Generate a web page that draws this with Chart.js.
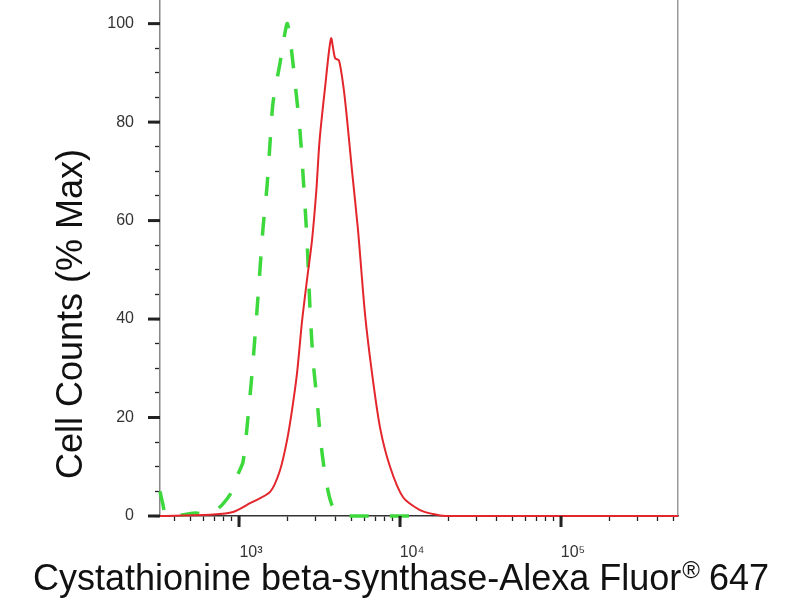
<!DOCTYPE html>
<html>
<head>
<meta charset="utf-8">
<script src="https://cdn.jsdelivr.net/npm/chart.js@4/dist/chart.umd.min.js"></script>
<style>
  body { margin: 0; background: #fff; }
  #wrap { width: 800px; height: 600px; }
</style>
</head>
<body>
<div id="wrap"><canvas id="myChart" width="800" height="600"></canvas></div>
<script>
// fluorescence intensity (log) vs % max
var redX = [323, 690, 918, 1171, 1560, 1798, 1988, 2134, 2293, 2462, 2645, 2840, 3020, 3160, 3423, 3730, 3948, 4180, 4460, 4691, 5038, 5487, 6063, 6700, 7510, 8670, 10450, 13310, 16020, 19040, 533000];
var redY = [0, 0.3, 0.8, 2.6, 4.9, 9.3, 15.4, 21.5, 29, 39.5, 48, 56, 66, 76, 87, 97, 93, 92.5, 87, 80.5, 70, 58, 41, 29, 18, 10, 3.8, 1.2, 0.4, 0, 0];

var greenX = [323, 336, 352, 400, 463, 540, 615, 700, 783, 905, 986, 1059, 1121, 1205, 1295, 1410, 1493, 1560, 1627, 1798, 1988, 2075, 2229, 2394, 2502, 2645, 2761, 2884, 3051, 3324, 3783, 4691, 15000];
var greenY = [5, 2.5, 0, 0, 0.3, 0.6, 0.3, 1, 2.2, 5, 8.5, 11, 18, 29, 42, 58.5, 67, 76, 84, 92, 100, 97, 88, 78, 69, 56, 42, 31.6, 23.5, 11.3, 2.2, 0, 0];

var yLabelEvery = 20;
var xTitle = ['Cystathionine beta-synthase-Alexa Fluor', '\u00AE', ' 647'];
var yTitle = 'Cell Counts (% Max)';
var sup = {'2': '\u00B2', '3': '\u00B3', '4': '\u2074', '5': '\u2075', '6': '\u2076'};

function pts(xs, ys) {
    return xs.map(function(x, i) { return {x: x, y: ys[i]}; });
}
function isDecade(v) {
    var e = Math.log10(v);
    return Math.abs(e - Math.round(e)) < 1e-6;
}
function isNice(v) {
    var p = Math.pow(10, Math.floor(Math.log10(v) + 1e-9));
    var s = v / p;
    return Math.abs(s - Math.round(s)) < 1e-6;
}

var font = '"Liberation Sans", Arial, sans-serif';

// axis titles, drawn as plain canvas text
var axisTitles = {
    id: 'axisTitles',
    afterDraw: function(chart) {
        var c = chart.ctx;
        c.save();
        c.fillStyle = '#111';
        c.font = '36px ' + font;
        c.textAlign = 'center';
        c.textBaseline = 'middle';
        c.translate(72, 314);
        c.rotate(-Math.PI / 2);
        c.fillText(yTitle, 0, 0);
        c.restore();

        c.save();
        c.fillStyle = '#111';
        c.textBaseline = 'alphabetic';
        c.font = '36px ' + font;
        var w0 = c.measureText(xTitle[0]).width;
        var w2 = c.measureText(xTitle[2]).width;
        c.font = '24px ' + font;
        var w1 = c.measureText(xTitle[1]).width;
        var x = 401 - (w0 + w1 + w2) / 2;
        c.font = '36px ' + font;
        c.fillText(xTitle[0], x, 590);
        c.font = '24px ' + font;
        c.fillText(xTitle[1], x + w0 + 1, 578);
        c.font = '36px ' + font;
        c.fillText(xTitle[2], x + w0 + w1, 590);
        c.restore();
    }
};

// longer, heavier marks for the labelled ticks
var majorTicks = {
    id: 'majorTicks',
    afterDraw: function(chart) {
        var c = chart.ctx, a = chart.chartArea;
        var xs = chart.scales.x, ys = chart.scales.y;
        c.save();
        c.strokeStyle = '#222';
        c.lineWidth = 3;
        xs.ticks.forEach(function(t) {
            if (!isDecade(t.value)) return;
            var px = xs.getPixelForValue(t.value);
            c.beginPath(); c.moveTo(px, a.bottom); c.lineTo(px, a.bottom + 11); c.stroke();
        });
        ys.ticks.forEach(function(t) {
            if (t.value % yLabelEvery !== 0) return;
            var py = ys.getPixelForValue(t.value);
            c.beginPath(); c.moveTo(a.left, py); c.lineTo(a.left - 12, py); c.stroke();
        });
        c.restore();
    }
};

var ctx = document.getElementById('myChart').getContext('2d');
var myChart = new Chart(ctx, {
    type: 'line',
    data: {
        datasets: [{
            label: 'Cystathionine beta-synthase',
            data: pts(redX, redY),
            borderColor: '#e3262c',
            borderWidth: 2,
            pointRadius: 0,
            tension: 0.25,
            clip: 3,
            order: 0
        },
        {
            label: 'Isotype control',
            data: pts(greenX, greenY),
            borderColor: '#3cd83c',
            borderWidth: 3.5,
            borderDash: [19, 21],
            pointRadius: 0,
            tension: 0.25,
            clip: 3,
            order: 1
        }]
    },
    options: {
        responsive: false,
        animation: false,
        layout: { padding: 0 },
        plugins: {
            legend: { display: false },
            tooltip: { enabled: false }
        },
        scales: {
            x: {
                type: 'logarithmic',
                min: 323,
                max: 533000,
                afterFit: function(s) { s.height = 84; s.paddingLeft = 0; s.paddingRight = 0; },
                border: { color: '#333', width: 1.5 },
                grid: {
                    drawOnChartArea: false,
                    tickLength: 5,
                    tickColor: function(c) { return isNice(c.tick.value) ? '#222' : 'rgba(0,0,0,0)'; },
                    tickWidth: 1.3
                },
                ticks: {
                    autoSkip: false,
                    maxRotation: 0,
                    padding: 22,
                    labelOffset: 12,
                    color: '#333',
                    font: { family: font, size: 16 },
                    callback: function(v) {
                        if (!isDecade(v)) return '';
                        var e = Math.round(Math.log10(v));
                        return '10' + sup[e];
                    }
                }
            },
            y: {
                min: 0,
                max: 104.8,
                afterFit: function(s) { s.width = 160; s.paddingTop = 0; s.paddingBottom = 0; },
                border: { color: '#888', width: 1.5 },
                grid: {
                    drawOnChartArea: false,
                    tickLength: 5,
                    tickColor: function(c) { return c.tick.value % 5 === 0 ? '#222' : 'rgba(0,0,0,0)'; },
                    tickWidth: 1.3
                },
                ticks: {
                    stepSize: 5,
                    autoSkip: false,
                    padding: 21,
                    color: '#333',
                    font: { family: font, size: 16 },
                    callback: function(v) { return v % yLabelEvery === 0 ? v : ''; }
                }
            },
            y2: {
                position: 'right',
                min: 0,
                max: 1,
                afterFit: function(s) { s.width = 122; s.paddingTop = 0; s.paddingBottom = 0; },
                border: { display: true, color: '#999', width: 1.5 },
                grid: { drawOnChartArea: false, drawTicks: false },
                ticks: { display: false }
            }
        }
    },
    plugins: [axisTitles, majorTicks]
});
</script>
</body>
</html>
